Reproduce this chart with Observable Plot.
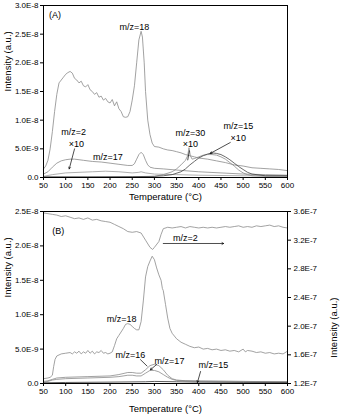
<!DOCTYPE html>
<html><head><meta charset="utf-8">
<script src="https://cdn.jsdelivr.net/npm/d3@7"></script>
<script src="https://cdn.jsdelivr.net/npm/@observablehq/plot@0.6"></script>
<style>body{margin:0;background:#fff}#c svg{display:block}</style>
</head><body><div id="c"></div>
<script>
// ---------- Panel A data (values in units of 1E-9) ----------
const A18_T = [50,55,60,65,70,75,80,85,90,95,100,105,110,115,120,125,130,135,140,145,150,155,160,165,170,175,180,185,190,195,200,205,210,215,220,225,230,235,240,245,250,255,260,265,270,273,277,280,285,290,295,300,310,320,330,340,350,360,370,380,390,400,420,440,460,480,500,520,540,560,580,600];
const A18_V = [1.5,2.0,3.0,5.0,8.0,11.5,14.5,16.5,17.0,17.5,18.0,18.3,18.5,18.2,17.3,17.0,16.5,16.8,16.0,15.8,16.2,15.3,15.0,14.5,14.8,14.0,14.2,13.5,13.8,13.2,13.0,13.6,12.5,13.2,12.0,11.5,10.6,10.5,10.6,11.5,13.5,16.0,20.0,24.0,25.5,24.5,20.0,15.0,10.0,7.5,6.0,5.4,5.3,5.0,4.8,4.7,4.5,4.3,4.0,3.8,3.6,3.4,3.2,2.9,2.6,2.2,2.0,1.7,1.6,1.5,1.4,1.2];
const A17_T = [50,60,70,80,90,100,110,120,140,160,180,200,220,240,250,255,260,265,270,275,280,285,290,300,320,350,400,450,500,550,600];
const A17_V = [0.6,1.0,1.8,2.5,2.9,3.1,3.2,3.2,3.0,2.8,2.7,2.5,2.3,2.1,2.1,2.4,3.2,4.0,4.4,4.0,3.0,2.2,1.8,1.6,1.5,1.3,1.0,0.8,0.6,0.5,0.4];
const A2_T = [50,70,100,130,160,190,220,250,265,270,280,300,350,400,500,600];
const A2_V = [0.2,0.5,0.8,0.9,1.0,1.1,1.0,0.8,0.9,1.0,0.8,0.6,0.5,0.4,0.3,0.3];
const A30_T = [50,150,250,300,320,340,350,360,370,375,378,381,385,390,400,410,420,430,440,450,460,470,480,490,500,510,520,550,600];
const A30_V = [0.1,0.1,0.1,0.2,0.5,1.0,1.5,2.2,3.0,3.8,5.2,3.8,3.2,3.3,3.6,3.9,4.0,4.0,3.9,3.6,3.2,2.6,2.0,1.3,0.8,0.5,0.3,0.2,0.2];
const A15_T = [50,150,250,300,320,340,360,370,380,390,400,410,420,430,440,450,460,470,480,490,500,510,520,550,600];
const A15_V = [0.1,0.1,0.15,0.2,0.3,0.5,1.0,1.5,2.2,2.8,3.4,3.8,4.1,4.3,4.2,4.0,3.6,3.1,2.5,1.9,1.4,0.9,0.6,0.3,0.3];

// ---------- Panel B data ----------
// m/z=2 on right axis (units of 1E-7)
const B2_T = [50,60,70,80,90,100,110,120,130,140,150,160,170,180,190,200,210,220,230,240,250,260,270,280,290,296,300,310,315,320,330,340,350,360,370,380,390,400,410,420,430,440,450,460,470,480,490,500,510,520,530,540,550,560,570,580,590,600];
const B2_V = [3.58,3.57,3.56,3.55,3.53,3.54,3.52,3.50,3.51,3.49,3.51,3.48,3.49,3.47,3.46,3.45,3.42,3.39,3.36,3.32,3.31,3.32,3.30,3.20,3.10,3.07,3.10,3.18,3.28,3.36,3.38,3.37,3.38,3.39,3.37,3.39,3.38,3.37,3.38,3.37,3.38,3.37,3.38,3.39,3.38,3.39,3.40,3.38,3.39,3.38,3.40,3.39,3.40,3.41,3.39,3.40,3.38,3.37];
// others on left axis (units of 1E-9)
const B18_T = [50,60,65,70,73,76,80,90,100,110,115,120,125,130,135,140,145,150,155,160,165,170,175,180,185,190,195,200,205,210,215,220,230,235,240,245,250,255,260,265,270,275,280,285,290,295,300,305,310,315,318,320,325,330,335,340,350,360,370,380,390,400,410,420,430,440,450,460,470,480,490,500,505,510,520,530,540,550,560,570,580,590,600];
const B18_V = [0.7,0.8,0.9,1.2,2.5,3.5,4.0,4.3,4.4,4.5,4.3,4.6,4.4,4.7,4.3,4.6,4.4,4.8,4.4,4.7,4.3,4.6,4.5,4.8,4.4,4.5,4.3,4.4,4.6,5.5,6.5,7.0,8.0,8.6,8.7,8.6,8.3,8.0,7.8,7.8,9.0,12.0,15.5,17.0,17.8,18.5,18.0,16.8,15.8,15.0,13.8,13.5,11.5,9.5,8.0,7.3,6.5,6.0,5.7,5.4,5.2,5.3,5.0,5.1,4.9,5.0,4.8,4.9,4.7,4.8,4.6,5.0,4.6,4.8,4.7,4.5,4.6,4.4,4.5,4.3,4.4,4.3,4.7];
const B16_T = [50,60,70,80,100,150,200,220,240,250,260,270,280,290,300,310,320,330,340,350,370,400,500,600];
const B16_V = [0.3,0.4,0.6,0.8,0.9,1.0,1.1,1.3,1.6,1.6,1.5,1.5,2.0,2.6,2.8,2.6,2.0,1.2,0.7,0.5,0.4,0.35,0.3,0.25];
const B17_T = [50,60,70,80,100,150,200,220,240,250,260,270,280,290,300,310,320,330,340,350,400,500,600];
const B17_V = [0.2,0.3,0.5,0.6,0.7,0.8,0.9,1.0,1.2,1.2,1.1,1.1,1.5,1.9,1.9,1.7,1.3,0.9,0.6,0.45,0.35,0.3,0.25];
const B15_T = [50,100,200,280,300,350,400,500,600];
const B15_V = [0.1,0.15,0.2,0.25,0.3,0.25,0.2,0.15,0.15];

// ---------- ticks ----------
const xTicks = [50,100,150,200,250,300,350,400,450,500,550,600];
const yTicksA = [0,5e-9,1e-8,1.5e-8,2e-8,2.5e-8,3e-8];
const yTicksB = [0,5e-9,1e-8,1.5e-8,2e-8,2.5e-8];
const yTicksBRight = [1.2e-7,1.6e-7,2.0e-7,2.4e-7,2.8e-7,3.2e-7,3.6e-7];
const rightDomain = [1.2e-7,3.6e-7];
const leftDomainB = [0,2.5e-8];
const xTitle = "Temperature (°C)";
const yTitle = "Intensity (a.u.)";

// ---------- annotations ----------
const labelsA = [
  {x:76,y:2.83e-8,text:"(A)"},
  {x:255,y:2.62e-8,text:"m/z=18"},
  {x:118,y:7.9e-9,text:"m/z=2"},
  {x:124,y:5.9e-9,text:"×10"},
  {x:195,y:3.5e-9,text:"m/z=17"},
  {x:381,y:7.7e-9,text:"m/z=30"},
  {x:381,y:5.75e-9,text:"×10"},
  {x:489,y:8.9e-9,text:"m/z=15"},
  {x:489,y:6.95e-9,text:"×10"}
];
const arrowsA = [
  {x1:120,y1:5.0e-9,x2:108,y2:1.5e-9,head:4},
  {x1:379,y1:4.7e-9,x2:375,y2:3.0e-9,head:0},
  {x1:471,y1:6.1e-9,x2:426,y2:4.2e-9,head:4}
];
const labelsB = [
  {x:83,y:2.22e-8,text:"(B)"},
  {x:370,y:2.11e-8,text:"m/z=2"},
  {x:226,y:9.3e-9,text:"m/z=18"},
  {x:246,y:4.07e-9,text:"m/z=16"},
  {x:334,y:3.2e-9,text:"m/z=17"},
  {x:433,y:2.62e-9,text:"m/z=15"}
];
const arrowsB = [
  {x1:320,y1:2.035e-8,x2:456,y2:2.035e-8,head:4},
  {x1:268,y1:3.5e-9,x2:284,y2:2.5e-9,head:0},
  {x1:305,y1:2.76e-9,x2:291,y2:2.0e-9,head:4},
  {x1:404,y1:1.74e-9,x2:397,y2:0.15e-9,head:4}
];

// ---------- build tables ----------
function zip(name, T, V, unit, color) { return T.map((t,i)=>({s:name, t, v:V[i]*unit, c:color})); }
const toLeft = v => (v - rightDomain[0])/(rightDomain[1]-rightDomain[0])*(leftDomainB[1]-leftDomainB[0]);
const fmt = d => d === 0 ? "0.0" : d3.format(".1e")(d).toUpperCase();

const dataA = [
  ...zip("18",A18_T,A18_V,1e-9,"#8a8a8a"),
  ...zip("17",A17_T,A17_V,1e-9,"#8a8a8a"),
  ...zip("2",A2_T,A2_V,1e-9,"#9a9a9a"),
  ...zip("30",A30_T,A30_V,1e-9,"#8a8a8a"),
  ...zip("15",A15_T,A15_V,1e-9,"#444")
];
const dataB = [
  ...B2_T.map((t,i)=>({s:"2",t,v:toLeft(B2_V[i]*1e-7),c:"#8a8a8a"})),
  ...zip("18",B18_T,B18_V,1e-9,"#8a8a8a"),
  ...zip("16",B16_T,B16_V,1e-9,"#8a8a8a"),
  ...zip("17",B17_T,B17_V,1e-9,"#8a8a8a"),
  ...zip("15",B15_T,B15_V,1e-9,"#333")
];

const FONT = "'Liberation Sans', Arial, sans-serif";
const common = {
  width:340, marginLeft:43, marginRight:53,
  style:{fontFamily:FONT, fontSize:"8px", color:"#000", background:"#fff", overflow:"visible"},
  x:{domain:[50,600]}
};
function textMarks(labels, arrows){
  return [
    Plot.text(labels, {x:"x", y:"y", text:"text", fontSize:9, fill:"#000"}),
    Plot.arrow(arrows.filter(d=>d.head>0), {x1:"x1",y1:"y1",x2:"x2",y2:"y2", headLength:4, stroke:"#000", strokeWidth:0.7}),
    Plot.link(arrows.filter(d=>d.head===0), {x1:"x1",y1:"y1",x2:"x2",y2:"y2", stroke:"#000", strokeWidth:0.7})
  ];
}
function titles(xdy, right){
  const m = [
    Plot.text([xTitle], {frameAnchor:"bottom", dy:xdy, text:d=>d, fontSize:9.5, lineAnchor:"middle", fill:"#000"}),
    Plot.text([yTitle], {frameAnchor:"left", dx:-36, rotate:-90, text:d=>d, fontSize:9.5, fill:"#000"})
  ];
  if (right) m.push(Plot.text([yTitle], {frameAnchor:"right", dx:46, rotate:-90, text:d=>d, fontSize:9.5, fill:"#000"}));
  return m;
}

const plotA = Plot.plot({
  ...common, height:200, marginTop:5, marginBottom:23,
  y:{domain:[0,3e-8]},
  marks:[
    Plot.line(dataA, {x:"t", y:"v", z:"s", stroke:"c", strokeWidth:0.8}),
    Plot.frame({stroke:"#000", strokeWidth:1}),
    Plot.axisX({ticks:xTicks, tickSize:3, tickPadding:2, label:null, fontSize:8}),
    Plot.axisY({ticks:yTicksA, tickFormat:fmt, tickSize:3, tickPadding:2, label:null, fontSize:8}),
    ...titles(19, false),
    ...textMarks(labelsA, arrowsA)
  ]
});

const plotB = Plot.plot({
  ...common, height:214, marginTop:11, marginBottom:31,
  y:{domain:leftDomainB},
  marks:[
    Plot.line(dataB, {x:"t", y:"v", z:"s", stroke:"c", strokeWidth:0.8}),
    Plot.frame({stroke:"#000", strokeWidth:1}),
    Plot.axisX({ticks:xTicks, tickSize:3, tickPadding:2, label:null, fontSize:8}),
    Plot.axisY({ticks:yTicksB, tickFormat:fmt, tickSize:3, tickPadding:2, label:null, fontSize:8}),
    Plot.axisY(yTicksBRight.map(toLeft), {anchor:"right", tickFormat:(d,i)=>fmt(yTicksBRight[i]), tickSize:3, tickPadding:3, label:null, fontSize:8}),
    ...titles(25, true),
    ...textMarks(labelsB, arrowsB)
  ]
});

document.getElementById("c").append(plotA, plotB);
</script>
</body></html>
